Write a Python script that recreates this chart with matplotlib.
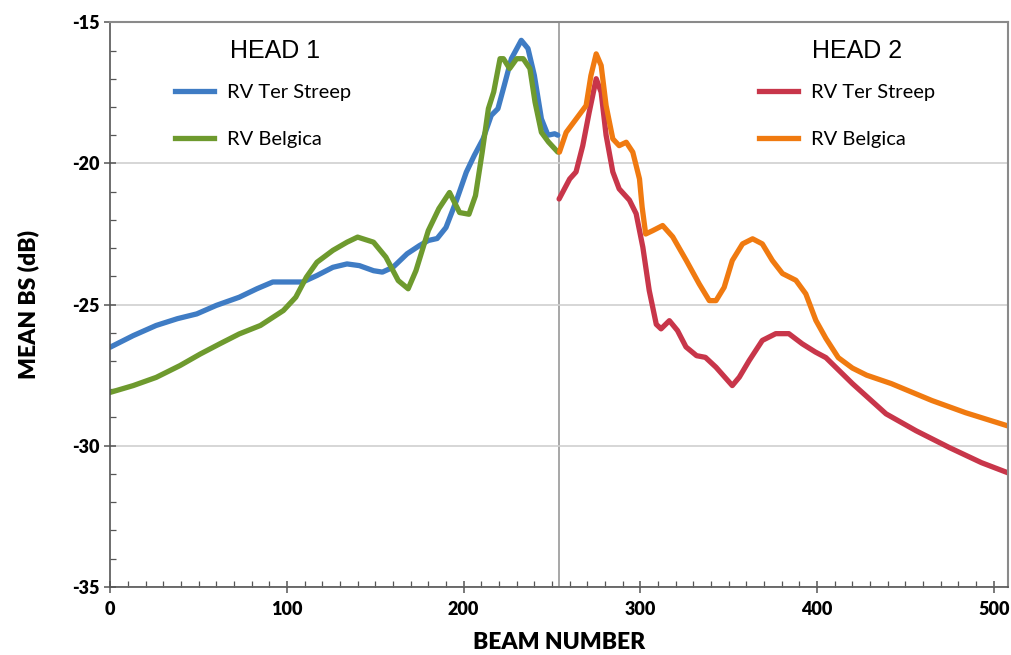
import matplotlib
matplotlib.use("Agg")
from matplotlib import pyplot as plt
from matplotlib.lines import Line2D
from matplotlib.ticker import MultipleLocator

plt.rcParams["axes.unicode_minus"] = False

# values (beam number, mean BS in dB)
head1_ter_x = [0, 13, 26, 38, 49, 60, 73, 83, 92, 100, 109, 117, 126, 134, 141, 149,
               154, 160, 168, 175, 180, 185, 190, 196, 201.5, 206, 211, 215.6, 219.4,
               223, 227, 232.6, 236.4, 240, 244, 247.7, 251.5, 253.3]
head1_ter_y = [-26.51, -26.1, -25.74, -25.5, -25.33, -25.03, -24.74, -24.44, -24.2, -24.2,
               -24.2, -23.97, -23.68, -23.56, -23.62, -23.8, -23.85, -23.68, -23.2, -22.91,
               -22.73, -22.66, -22.27, -21.3, -20.31, -19.72, -19.13, -18.3, -18.06,
               -17.23, -16.29, -15.64, -15.93, -16.88, -18.42, -19.0, -18.95, -19.0]

head1_bel_x = [0, 13, 26, 39.5, 51, 62, 73, 85, 98, 105, 111, 117, 126, 134, 140, 149,
               156, 163, 168.6, 173, 180, 186, 192, 197.7, 203, 206.7, 210.5, 214, 217,
               220.6, 222.5, 226, 230, 233.7, 237.5, 240.4, 244, 248, 253.3]
head1_bel_y = [-28.11, -27.87, -27.58, -27.16, -26.75, -26.39, -26.04, -25.74, -25.21,
               -24.74, -24.03, -23.5, -23.08, -22.79, -22.61, -22.79, -23.32, -24.15, -24.44,
               -23.8, -22.38, -21.6, -21.03, -21.74, -21.8, -21.14, -19.6, -18.06, -17.47,
               -16.29, -16.29, -16.64, -16.29, -16.29, -16.64, -17.83, -18.9, -19.24, -19.6]

head2_ter_x = [254, 260, 263.6, 267.4, 271, 275, 277.8, 280.6, 284.4, 288, 293.8, 297.6,
               301.4, 305, 309, 311.7, 316.4, 321, 325.8, 331.8, 336.8, 342.8, 352, 356,
               361.6, 369, 376.6, 384, 391.6, 399, 405, 420, 439, 456, 475, 493, 508]
head2_ter_y = [-21.26, -20.55, -20.3, -19.37, -18.2, -17.0, -17.48, -19.0, -20.3, -20.9,
               -21.3, -21.78, -22.97, -24.5, -25.7, -25.86, -25.57, -25.92, -26.5, -26.81,
               -26.87, -27.22, -27.87, -27.57, -26.98, -26.27, -26.03, -26.03, -26.39,
               -26.68, -26.88, -27.8, -28.87, -29.47, -30.07, -30.6, -30.96]

head2_bel_x = [254.2, 258, 263.6, 269.3, 272, 275, 277.8, 280.6, 284.4, 288, 292, 295.7,
               299.5, 301, 303, 307, 312.6, 318.3, 326, 333.3, 339, 342.8, 347.4, 352,
               357.8, 363.5, 369, 374.7, 380.4, 388, 393.6, 399.3, 405, 412, 420, 428,
               442, 465, 484, 508]
head2_bel_y = [-19.6, -18.9, -18.43, -17.95, -16.89, -16.12, -16.53, -17.95, -19.13,
               -19.37, -19.25, -19.6, -20.55, -21.55, -22.5, -22.38, -22.2, -22.6, -23.44,
               -24.27, -24.86, -24.86, -24.39, -23.44, -22.85, -22.67, -22.85, -23.44,
               -23.9, -24.14, -24.62, -25.56, -26.2, -26.88, -27.25, -27.5, -27.8, -28.4,
               -28.83, -29.3]

labels = ["RV Ter Streep", "RV Belgica"]
c_blue, c_green, c_red, c_orange = "#3F7CC4", "#6E9A2E", "#C8364A", "#F07A10"

fig = plt.figure(figsize=(10.11, 6.55), dpi=100)
ax = fig.add_axes([0.109, 0.104, 0.888, 0.862])

lw = 3.8
style = dict(lw=lw, solid_joinstyle="round", solid_capstyle="round")
ax.plot(head1_ter_x, head1_ter_y, color=c_blue, **style)
ax.plot(head1_bel_x, head1_bel_y, color=c_green, **style)
ax.plot(head2_ter_x, head2_ter_y, color=c_red, **style)
ax.plot(head2_bel_x, head2_bel_y, color=c_orange, **style)

# divider between the two heads
ax.axvline(254, color="#a0a0a0", lw=1.3, zorder=0)

ax.set_xlim(0, 508)
ax.set_ylim(-35, -15)
ax.xaxis.set_major_locator(MultipleLocator(100))
ax.xaxis.set_minor_locator(MultipleLocator(10))
ax.yaxis.set_major_locator(MultipleLocator(5))
ax.yaxis.set_minor_locator(MultipleLocator(1))
ax.grid(axis="y", which="major", color="#d0d0d0", lw=1.2)
ax.set_axisbelow(True)

for side in ["top", "right"]:
    ax.spines[side].set_color("#8a8a8a")
    ax.spines[side].set_linewidth(1.5)
for side in ["left", "bottom"]:
    ax.spines[side].set_color("#555555")
    ax.spines[side].set_linewidth(1.2)

ax.tick_params(which="major", direction="inout", length=8, width=1.1, color="#555555")
ax.tick_params(which="minor", direction="in", length=4, width=0.9, color="#555555")
ax.tick_params(axis="x", pad=6)
for t in ax.get_xticklabels() + ax.get_yticklabels():
    t.set_fontfamily("Lato")
    t.set_fontweight("heavy")
    t.set_fontsize(13)

ax.set_xlabel("BEAM NUMBER", fontfamily="Lato", fontweight="heavy", fontsize=16.5, labelpad=10)
ax.set_ylabel("MEAN BS (dB)", fontfamily="Lato", fontweight="heavy", fontsize=16.5, labelpad=24)

# two legends, one per head, with the head name above
def head_legend(title, colors, xa, xt):
    handles = [Line2D([], [], color=c, lw=lw) for c in colors]
    leg = ax.legend(handles, labels, loc="center left", bbox_to_anchor=(xa, 0.834),
                    frameon=False, borderpad=0, handlelength=1.95, handletextpad=0.65,
                    labelspacing=1.5, prop={"family": "Lato", "size": 14.5})
    ax.text(xt, 0.950, title, transform=ax.transAxes, ha="center", va="center",
            fontfamily="Liberation Sans", fontsize=18)
    return leg

leg1 = head_legend("HEAD 1", [c_blue, c_green], 0.061, 0.184)
ax.add_artist(leg1)
head_legend("HEAD 2", [c_red, c_orange], 0.7115, 0.832)

fig.savefig("out.png", dpi=100)
